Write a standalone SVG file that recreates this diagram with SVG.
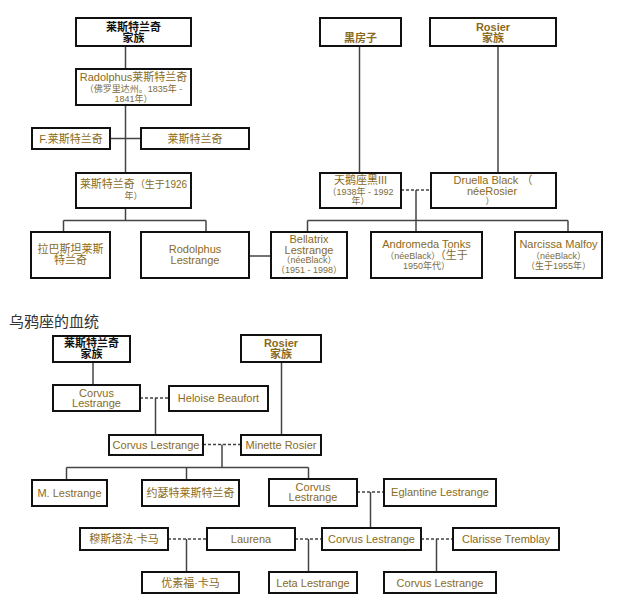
<svg xmlns="http://www.w3.org/2000/svg" width="640" height="603" viewBox="0 0 640 603">
<style>
text{font-family:"Liberation Sans","Noto Sans CJK SC",sans-serif;text-anchor:middle;fill:#8a6a1c;font-size:11px}
.b rect{fill:#fff;stroke:#111;stroke-width:2}
.k{fill:#111;font-weight:bold}
.bd{font-weight:bold}
.s{font-size:9px;fill:#7d6b40}
.title{text-anchor:start;font-size:15px;fill:#333}
#conn line{stroke:#444;stroke-width:1.5}
#conn line.d{stroke-dasharray:3,2}
</style>
<rect width="640" height="603" fill="#fff"/>
<g id="conn">
<line x1="125.5" y1="46" x2="125.5" y2="69"/>
<line x1="125.5" y1="105" x2="125.5" y2="173"/>
<line x1="110" y1="138.5" x2="141" y2="138.5"/>
<line x1="125.5" y1="208" x2="125.5" y2="220.5"/>
<line x1="63.5" y1="220.5" x2="206" y2="220.5"/>
<line x1="63.5" y1="220.5" x2="63.5" y2="232"/>
<line x1="206" y1="220.5" x2="206" y2="232"/>
<line x1="249" y1="256" x2="271" y2="256"/>
<line x1="359.5" y1="46" x2="359.5" y2="173"/>
<line x1="498" y1="46" x2="498" y2="173"/>
<line class="d" x1="401" y1="190" x2="431" y2="190"/>
<line x1="416" y1="190" x2="416" y2="232"/>
<line x1="307.5" y1="220.5" x2="568" y2="220.5"/>
<line x1="307.5" y1="220.5" x2="307.5" y2="232"/>
<line x1="568" y1="220.5" x2="568" y2="232"/>
<line x1="93" y1="362" x2="93" y2="385"/>
<line x1="281.5" y1="362" x2="281.5" y2="435"/>
<line class="d" x1="140" y1="398" x2="169" y2="398"/>
<line x1="155.5" y1="398" x2="155.5" y2="435"/>
<line class="d" x1="203" y1="444.5" x2="241" y2="444.5"/>
<line x1="222" y1="444.5" x2="222" y2="467.5"/>
<line x1="66.5" y1="467.5" x2="308.5" y2="467.5"/>
<line x1="66.5" y1="467.5" x2="66.5" y2="480"/>
<line x1="186.5" y1="467.5" x2="186.5" y2="480"/>
<line x1="308.5" y1="467.5" x2="308.5" y2="479"/>
<line class="d" x1="357" y1="492" x2="384" y2="492"/>
<line x1="370.5" y1="492" x2="370.5" y2="528"/>
<line class="d" x1="168" y1="539" x2="207" y2="539"/>
<line x1="186.5" y1="539" x2="186.5" y2="572"/>
<line class="d" x1="295" y1="539" x2="322" y2="539"/>
<line x1="308.5" y1="539" x2="308.5" y2="572"/>
<line class="d" x1="421" y1="539" x2="453" y2="539"/>
<line x1="436.5" y1="539" x2="436.5" y2="572"/>
</g>
<g id="lestrange-family" class="b"><rect x="76" y="18" width="115" height="28"/><text class="k" x="133.5" y="31">莱斯特兰奇</text><text class="k" x="133.5" y="42">家族</text></g>
<g id="radolphus" class="b"><rect x="76" y="69" width="115" height="36"/><text x="133.5" y="80.5">Radolphus莱斯特兰奇</text><text class="s" x="133.5" y="91.5">（佛罗里达州。1835年 -</text><text class="s" x="133.5" y="101.5">1841年）</text></g>
<g id="f-lestrange" class="b"><rect x="32" y="128" width="78" height="21"/><text x="71" y="142.5">F.莱斯特兰奇</text></g>
<g id="lestrange2" class="b"><rect x="141" y="128" width="108" height="21"/><text x="195" y="142.5">莱斯特兰奇</text></g>
<g id="lestrange1926" class="b"><rect x="76" y="173" width="115" height="35"/><text x="133.5" y="188">莱斯特兰奇<tspan font-size="10">（生于1926</tspan></text><text class="s" x="133.5" y="198.5">年）</text></g>
<g id="rabastan" class="b"><rect x="31" y="232" width="79" height="46"/><text x="70.5" y="253">拉巴斯坦莱斯</text><text x="70.5" y="263.5">特兰奇</text></g>
<g id="rodolphus" class="b"><rect x="141" y="232" width="108" height="46"/><text x="195" y="253">Rodolphus</text><text x="195" y="264">Lestrange</text></g>
<g id="bellatrix" class="b"><rect x="271" y="232" width="76" height="46"/><text x="309" y="243">Bellatrix</text><text x="309" y="253.5">Lestrange</text><text class="s" x="309" y="263">（néeBlack）</text><text class="s" x="309" y="273">（1951 - 1998）</text></g>
<g id="black-house" class="b"><rect x="320" y="18" width="81" height="28"/><text class="bd" x="360.5" y="42">黑房子</text></g>
<g id="rosier-family" class="b"><rect x="430" y="18" width="126" height="28"/><text class="bd" x="493" y="31">Rosier</text><text class="bd" x="493" y="42">家族</text></g>
<g id="cygnus" class="b"><rect x="320" y="173" width="81" height="35"/><text x="360.5" y="184">天鹅座黑III</text><text class="s" x="360.5" y="194.5">（1938年 - 1992</text><text class="s" x="360.5" y="204">年）</text></g>
<g id="druella" class="b"><rect x="431" y="173" width="125" height="35"/><text x="493" y="184">Druella Black （</text><text x="492" y="195">néeRosier</text><text class="s" x="490" y="204">）</text></g>
<g id="andromeda" class="b"><rect x="371" y="232" width="111" height="46"/><text x="426.5" y="248">Andromeda Tonks</text><text class="s" x="426.5" y="258.5">（néeBlack）<tspan font-size="11">（生于</tspan></text><text class="s" x="426.5" y="268.5">1950年代）</text></g>
<g id="narcissa" class="b"><rect x="515" y="232" width="87" height="46"/><text x="558.5" y="248">Narcissa Malfoy</text><text class="s" x="558.5" y="258.5">（néeBlack）</text><text class="s" x="558.5" y="268.5">（生于1955年）</text></g>
<text class="title" x="9" y="327">乌鸦座的血统</text>
<g id="c-lestrange-family" class="b"><rect x="53" y="336" width="77" height="26"/><text class="k" x="91.5" y="346.5">莱斯特兰奇</text><text class="k" x="91.5" y="357.5">家族</text></g>
<g id="c-rosier-family" class="b"><rect x="241" y="335" width="80" height="27"/><text class="bd" x="281" y="347">Rosier</text><text class="bd" x="281" y="358">家族</text></g>
<g id="corvus1" class="b"><rect x="53" y="385" width="87" height="26"/><text x="96.5" y="396.5">Corvus</text><text x="96.5" y="407">Lestrange</text></g>
<g id="heloise" class="b"><rect x="169" y="386" width="99" height="25"/><text x="218.5" y="402">Heloise Beaufort</text></g>
<g id="corvus2" class="b"><rect x="109" y="435" width="94" height="20"/><text x="156" y="449">Corvus Lestrange</text></g>
<g id="minette" class="b"><rect x="241" y="435" width="80" height="20"/><text x="281" y="449">Minette Rosier</text></g>
<g id="m-lestrange" class="b"><rect x="32" y="480" width="75" height="26"/><text x="69.5" y="497">M. Lestrange</text></g>
<g id="joseph" class="b"><rect x="142" y="480" width="97" height="26"/><text x="190.5" y="497">约瑟特莱斯特兰奇</text></g>
<g id="corvus3" class="b"><rect x="269" y="479" width="88" height="27"/><text x="313" y="490.5">Corvus</text><text x="313" y="501">Lestrange</text></g>
<g id="eglantine" class="b"><rect x="384" y="479" width="112" height="27"/><text x="440" y="496">Eglantine Lestrange</text></g>
<g id="mustafa" class="b"><rect x="80" y="528" width="88" height="22"/><text x="124" y="543">穆斯塔法·卡马</text></g>
<g id="laurena" class="b"><rect x="207" y="528" width="88" height="22"/><text x="251" y="543">Laurena</text></g>
<g id="corvus4" class="b"><rect x="322" y="528" width="99" height="22"/><text x="371.5" y="543">Corvus Lestrange</text></g>
<g id="clarisse" class="b"><rect x="453" y="528" width="106" height="22"/><text x="506" y="543">Clarisse Tremblay</text></g>
<g id="yusuf" class="b"><rect x="142" y="572" width="97" height="21"/><text x="190.5" y="586.5">优素福·卡马</text></g>
<g id="leta" class="b"><rect x="269" y="572" width="88" height="21"/><text x="313" y="586.5">Leta Lestrange</text></g>
<g id="corvus5" class="b"><rect x="384" y="572" width="112" height="21"/><text x="440" y="586.5">Corvus Lestrange</text></g>
</svg>
